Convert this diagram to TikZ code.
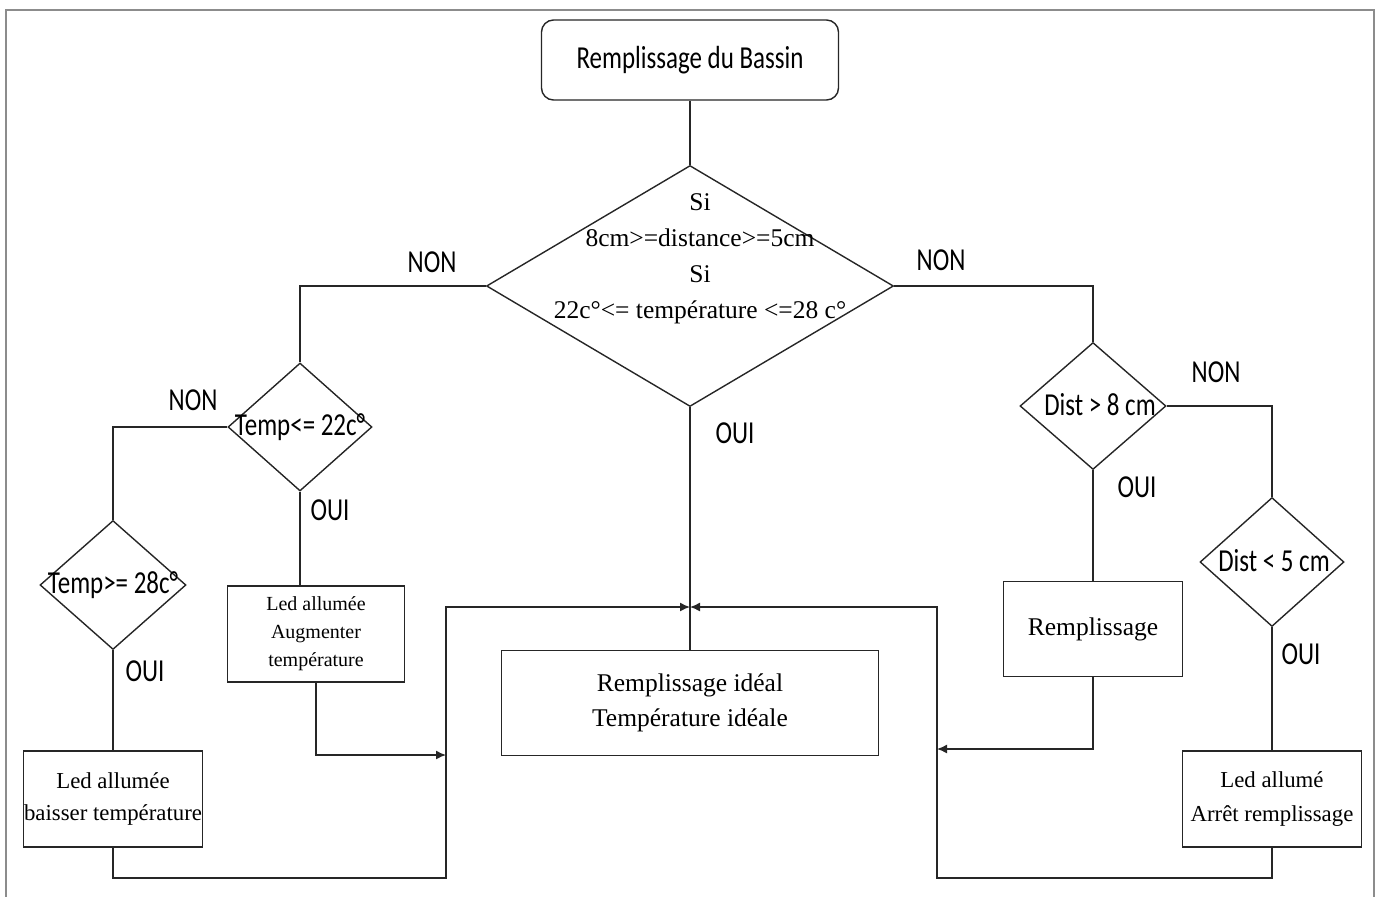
\documentclass[tikz,border=0pt]{standalone}
\usepackage{fontspec}
\setmainfont{Liberation Serif}
\newfontfamily\labfont[FakeStretch=0.78]{Carlito}
\usetikzlibrary{shapes.geometric, arrows.meta}

\begin{document}
\begin{tikzpicture}[x=1pt, y=-1pt,
    line/.style={line width=1.4pt, draw=black!85},
    flow/.style={line, -{Latex[length=10pt,width=9pt]}},
    box/.style={rectangle, line, align=center, inner sep=0pt},
    test/.style={diamond, line, inner sep=0pt},
    lab/.style={font=\labfont\fontsize{32}{36}\selectfont, inner sep=0pt}]
    \useasboundingbox (0,0) rectangle (1379,897);

    % page frame
    \draw[line width=2pt, black!45] (6,897) -- (6,10) -- (1374,10) -- (1374,897);

    % start
    \node[box, rounded corners=12pt, minimum width=297, minimum height=80, lab] (start) at (690,60) {Remplissage du Bassin};

    % main test
    \node[test, minimum width=407, minimum height=241] (d0) at (690,286) {};
    \node[align=center, inner sep=0pt, font=\fontsize{25.5}{36}\selectfont] (t0) at (700,259) {Si\\8cm>=distance>=5cm\\Si\\22c°<= température <=28 c°};

    % temperature side
    \node[test, minimum width=144, minimum height=128] (d1) at (300,427) {};
    \node[lab] (t1) at (300,427) {Temp<= 22c°};
    \node[test, minimum width=146, minimum height=129] (d2) at (113,585) {};
    \node[lab] (t2) at (113,585) {Temp>= 28c°};
    \node[box, minimum width=179, minimum height=96, font=\fontsize{22.8}{32}\selectfont] (b1) at (113,799) {Led allumée\\baisser température};
    \node[box, minimum width=177, minimum height=96, font=\fontsize{20}{28}\selectfont] (b2) at (316,634) {Led allumée\\Augmenter\\température};

    % ideal case
    \node[box, minimum width=377, minimum height=105, font=\fontsize{25.5}{35}\selectfont] (b3) at (690,703) {Remplissage idéal\\Température idéale};

    % distance side
    \node[test, minimum width=146, minimum height=127] (d3) at (1093,406) {};
    \node[lab] (t3) at (1100,405) {Dist > 8 cm};
    \node[test, minimum width=144, minimum height=129] (d4) at (1272,562) {};
    \node[lab] (t4) at (1274,561) {Dist < 5 cm};
    \node[box, minimum width=179, minimum height=95, font=\fontsize{25.5}{35}\selectfont] (b4) at (1093,629) {Remplissage};
    \node[box, minimum width=179, minimum height=96, font=\fontsize{22.8}{34}\selectfont] (b5) at (1272,799) {Led allumé\\Arrêt remplissage};

    % junction points
    \coordinate (hub) at (690,607);
    \coordinate (jL) at (446,607);
    \coordinate (jR) at (937,607);
    \coordinate (botL) at (446,878);
    \coordinate (botR) at (937,878);
    \coordinate (inL) at (446,755);
    \coordinate (inR) at (937,749);

    % connectors
    \draw[line] (start) -- (d0);
    \draw[line] (d0.west) -| (d1.north);
    \draw[line] (d0.east) -| (d3.north);
    \draw[line] (d0.south) -- (b3.north);
    \draw[line] (d1.west) -| (d2.north);
    \draw[line] (d1.south) -- (d1.south |- b2.north);
    \draw[line] (d2.south) -- (b1.north);
    \draw[line] (d3.south) -- (b4.north);
    \draw[line] (d3.east) -| (d4.north);
    \draw[line] (d4.south) -- (b5.north);
    \draw[flow] (b1.south) |- (botL) -- (jL) -- (hub);
    \draw[flow] (b2.south) |- (inL);
    \draw[flow] (b4.south) |- (inR);
    \draw[flow] (b5.south) |- (botR) -- (jR) -- (hub);

    % labels
    \node[lab] (n0) at (432,262) {NON};
    \node[lab] (n1) at (941,260) {NON};
    \node[lab] (o0) at (735,433) {OUI};
    \node[lab] (n2) at (193,400) {NON};
    \node[lab] (o1) at (330,510) {OUI};
    \node[lab] (o2) at (145,671) {OUI};
    \node[lab] (o3) at (1137,487) {OUI};
    \node[lab] (n3) at (1216,372) {NON};
    \node[lab] (o4) at (1301,654) {OUI};
\end{tikzpicture}
\end{document}
